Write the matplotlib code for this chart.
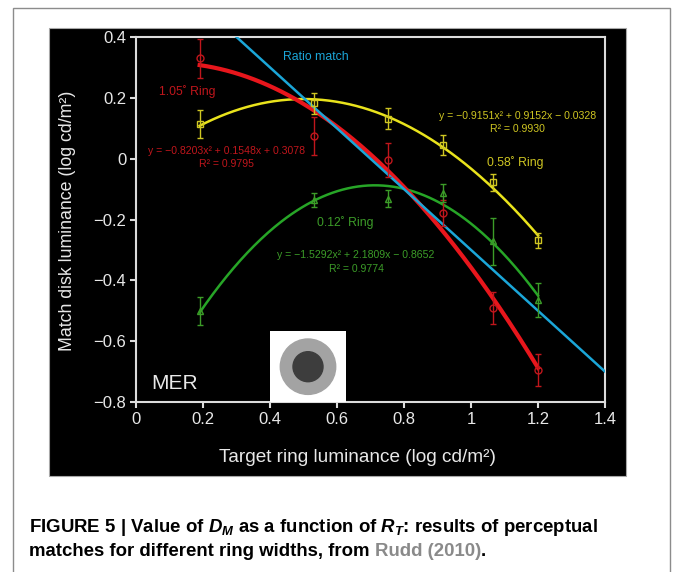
import numpy as np
import matplotlib
matplotlib.use("Agg")
import matplotlib.pyplot as plt
from matplotlib.patches import Rectangle, Circle
from matplotlib import font_manager

# fonts: condensed bold for the caption if available
names = {f.name for f in font_manager.fontManager.ttflist}
cap_font = 'Liberation Sans Narrow' if 'Liberation Sans Narrow' in names else 'Liberation Sans'

plt.rcParams['font.family'] = ['Liberation Sans', 'DejaVu Sans']
plt.rcParams['mathtext.fontset'] = 'custom'
plt.rcParams['mathtext.it'] = cap_font + ':italic:bold'
plt.rcParams['mathtext.rm'] = cap_font + ':bold'
plt.rcParams['mathtext.bf'] = cap_font + ':bold'

# data
target_x = [0.19, 0.53, 0.753, 0.917, 1.066, 1.2]
ring105_y = [0.33, 0.074, -0.004, -0.178, -0.492, -0.695]
ring105_err = [0.065, 0.063, 0.056, 0.043, 0.053, 0.054]
ring058_y = [0.114, 0.182, 0.132, 0.045, -0.077, -0.268]
ring058_err = [0.046, 0.035, 0.033, 0.032, 0.028, 0.025]
ring012_y = [-0.501, -0.136, -0.131, -0.114, -0.272, -0.465]
ring012_err = [0.045, 0.022, 0.028, 0.03, 0.077, 0.057]

# quadratic fits printed on the chart
fit105 = [-0.8203, 0.1548, 0.3078]
fit058 = [-0.9151, 0.9152, -0.0328]
fit012 = [-1.5292, 2.1809, -0.8652]
fit_range = [0.19, 1.2]

ratio_x = [0.3, 1.4]
ratio_y = [0.4, -0.7]

x_ticks = [0, 0.2, 0.4, 0.6, 0.8, 1.0, 1.2, 1.4]
x_ticklabels = ['0', '0.2', '0.4', '0.6', '0.8', '1', '1.2', '1.4']
y_ticks = [-0.8, -0.6, -0.4, -0.2, 0, 0.2, 0.4]
y_ticklabels = ['\u22120.8', '\u22120.6', '\u22120.4', '\u22120.2', '0', '0.2', '0.4']

red_line, red_mark = '#e8161c', '#c0161c'
yel_line, yel_mark = '#e9e31c', '#cfc622'
grn_line, grn_mark = '#27a527', '#3c9c28'
blue = '#1ba6d8'
axis_col = '#dcdcdc'
txt_col = '#e8e8e8'

W, H = 673, 572
fig = plt.figure(figsize=(W / 100, H / 100), dpi=100)


def fx(px):
    return px / W


def fy(py):
    return 1 - py / H


# outer page frame and black panel
fig.add_artist(Rectangle((fx(12.5), -0.05), fx(670) - fx(12.5), fy(8) + 0.05,
                         fill=False, edgecolor='#8c8c8c', lw=1, zorder=-2))
fig.add_artist(Rectangle((fx(49), fy(476)), fx(626) - fx(49), fy(28) - fy(476),
                         facecolor='black', edgecolor='#a8a8a8', lw=0.8, zorder=-1))

ax = fig.add_axes([fx(136), fy(402), fx(605) - fx(136), fy(37) - fy(402)])
ax.set_facecolor('black')
for s in ax.spines.values():
    s.set_color(axis_col)
    s.set_linewidth(1.5)

xs = np.linspace(fit_range[0], fit_range[1], 200)
ax.plot(ratio_x, ratio_y, color=blue, lw=1.8, zorder=3)
ax.plot(xs, np.polyval(fit012, xs), color=grn_line, lw=1.8, zorder=2)
ax.plot(xs, np.polyval(fit058, xs), color=yel_line, lw=1.8, zorder=2)
ax.plot(xs, np.polyval(fit105, xs), color=red_line, lw=3.0, zorder=2.5)

ebkw = dict(mfc='none', ms=5, mew=1, elinewidth=1, capsize=2.5, capthick=1, zorder=4)
ax.errorbar(target_x, ring105_y, yerr=ring105_err, fmt='o', mec=red_mark, ecolor=red_mark, **ebkw)
ax.errorbar(target_x, ring058_y, yerr=ring058_err, fmt='s', mec=yel_mark, ecolor=yel_mark, **ebkw)
ax.errorbar(target_x, ring012_y, yerr=ring012_err, fmt='^', mec=grn_mark, ecolor=grn_mark, **ebkw)

ax.set_xlim(0, 1.4)
ax.set_ylim(-0.8, 0.4)
ax.set_xticks(x_ticks, x_ticklabels)
ax.set_yticks(y_ticks, y_ticklabels)
ax.tick_params(direction='out', length=4, width=1.5, color=axis_col,
               labelcolor=txt_col, labelsize=12, pad=3)

# axis titles placed as in the reference
fig.text(fx(357.5), fy(457), 'Target ring luminance (log cd/m\u00b2)', color=txt_col,
         fontsize=13.7, ha='center', va='center')
fig.text(fx(68), fy(221), 'Match disk luminance (log cd/m\u00b2)', color=txt_col,
         fontsize=12.8, ha='center', va='center', rotation=90)

# annotations
ax.text(0.44, 0.335, 'Ratio match', color=blue, fontsize=8.8, va='center')
ax.text(0.069, 0.22, '1.05\u02da Ring', color=red_mark, fontsize=8.8, va='center')
eqkw = dict(fontsize=7.6, ha='center', va='center')
ax.text(0.27, 0.025, 'y = \u22120.8203x\u00b2 + 0.1548x + 0.3078', color=red_mark, **eqkw)
ax.text(0.27, -0.018, 'R\u00b2 = 0.9795', color=red_mark, **eqkw)
ax.text(1.138, 0.14, 'y = \u22120.9151x\u00b2 + 0.9152x \u2212 0.0328', color=yel_mark, **eqkw)
ax.text(1.138, 0.096, 'R\u00b2 = 0.9930', color=yel_mark, **eqkw)
ax.text(1.049, -0.013, '0.58\u02da Ring', color=yel_mark, fontsize=8.8, va='center')
ax.text(0.539, -0.211, '0.12\u02da Ring', color=grn_mark, fontsize=8.8, va='center')
ax.text(0.657, -0.317, 'y = \u22121.5292x\u00b2 + 2.1809x \u2212 0.8652', color=grn_mark, **eqkw)
ax.text(0.657, -0.363, 'R\u00b2 = 0.9774', color=grn_mark, **eqkw)
ax.text(0.047, -0.739, 'MER', color=txt_col, fontsize=15, va='center')

# stimulus inset
iax = fig.add_axes([fx(270), fy(402), fx(346) - fx(270), fy(331) - fy(402)])
iax.set_facecolor('white')
iax.set_xlim(0, 76)
iax.set_ylim(0, 71)
iax.set_xticks([])
iax.set_yticks([])
for s in iax.spines.values():
    s.set_visible(False)
iax.add_patch(Circle((38, 35.3), 27.7, color='#a3a3a3'))
iax.add_patch(Circle((38, 35.3), 15, color='#3d3d3d'))

# caption
capkw = dict(fontsize=13.4, fontweight='bold', family=cap_font, va='baseline')
fig.text(fx(29), fy(531.5),
         'FIGURE 5 | Value of $D_M$ as a function of $R_T$: results of perceptual', **capkw)
renderer = fig.canvas.get_renderer()
t1 = fig.text(fx(29), fy(556.5), 'matches for different ring widths, from ', **capkw)
x2 = t1.get_window_extent(renderer).x1 / W
t2 = fig.text(x2, fy(556.5), 'Rudd (2010)', color='#8a8a8a', **capkw)
x3 = t2.get_window_extent(renderer).x1 / W
fig.text(x3, fy(556.5), '.', **capkw)

fig.savefig('out.png', dpi=100)
